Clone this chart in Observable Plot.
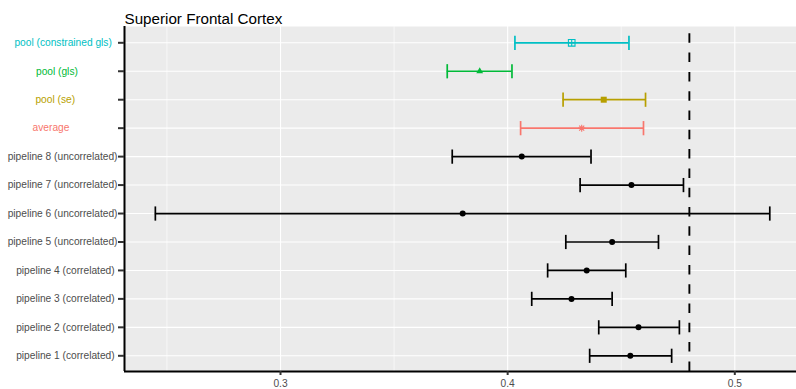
<!DOCTYPE html>
<html>
<head>
<meta charset="utf-8">
<script src="https://cdn.jsdelivr.net/npm/d3@7"></script>
<script src="https://cdn.jsdelivr.net/npm/@observablehq/plot@0.6"></script>
<style>
  body { margin: 0; background: #ffffff; }
  #chart svg { font-family: "Liberation Sans", Arial, sans-serif; }
  #chart svg text { white-space: pre; }
</style>
</head>
<body>
<div id="chart"></div>
<script>
// ---- data (top to bottom) ----
const title = "Superior Frontal Cortex";
const labels = [
  "pool (constrained gls)",
  "pool (gls)",
  "pool (se)",
  "average",
  "pipeline 8 (uncorrelated)",
  "pipeline 7 (uncorrelated)",
  "pipeline 6 (uncorrelated)",
  "pipeline 5 (uncorrelated)",
  "pipeline 4 (correlated)",
  "pipeline 3 (correlated)",
  "pipeline 2 (correlated)",
  "pipeline 1 (correlated)"
];
const estimate = [0.4282, 0.3877, 0.4423, 0.4326, 0.4062, 0.4545, 0.3802, 0.4460, 0.4348, 0.4281, 0.4576, 0.4540];
const lower    = [0.4032, 0.3734, 0.4244, 0.4057, 0.3756, 0.4319, 0.2449, 0.4256, 0.4176, 0.4106, 0.4401, 0.4361];
const upper    = [0.4534, 0.4019, 0.4607, 0.4598, 0.4367, 0.4774, 0.5154, 0.4664, 0.4520, 0.4460, 0.4756, 0.4722];
const method   = ["constrained", "gls", "se", "average", "pipeline", "pipeline", "pipeline", "pipeline", "pipeline", "pipeline", "pipeline", "pipeline"];
const referenceValue = 0.48;
const xTicks = [0.3, 0.4, 0.5];
const xMinorTicks = [0.25, 0.35, 0.45];

// ---- styles ----
const methodColor = {constrained: "#00BFC4", gls: "#00BA38", se: "#B79F00", average: "#F8766D", pipeline: "#000000"};
const labelColor = {constrained: "#00BFC4", gls: "#00BA38", se: "#B79F00", average: "#F8766D", pipeline: "#4D4D4D"};

const rows = labels.map((label, i) => ({
  i, label, est: estimate[i], lo: lower[i], hi: upper[i], method: method[i]
}));

const xDomain = [0.23132, 0.52716];
const yDomain = [11.552, -0.573];

// custom ggplot-like point shapes
function shape(fn) { return {draw(ctx, size) { fn(ctx, Math.sqrt(size / Math.PI)); }}; }
const squarePlus = shape((c, r) => {
  c.moveTo(-r, -r); c.lineTo(r, -r); c.lineTo(r, r); c.lineTo(-r, r); c.closePath();
  c.moveTo(-r, 0); c.lineTo(r, 0); c.moveTo(0, -r); c.lineTo(0, r);
});
const triangle = shape((c, r) => {
  c.moveTo(0, -r * 1.15); c.lineTo(r, r * 0.58); c.lineTo(-r, r * 0.58); c.closePath();
});
const square = shape((c, r) => { c.rect(-r, -r, 2 * r, 2 * r); });
const asterisk = shape((c, r) => {
  const d = r * 0.72;
  c.moveTo(-r, 0); c.lineTo(r, 0); c.moveTo(0, -r); c.lineTo(0, r);
  c.moveTo(-d, -d); c.lineTo(d, d); c.moveTo(-d, d); c.lineTo(d, -d);
});

const by = m => rows.filter(d => d.method === m);

const chart = Plot.plot({
  width: 796,
  height: 389,
  marginLeft: 124,
  marginRight: 0,
  marginTop: 26,
  marginBottom: 18,
  style: {fontSize: "10.2px", color: "#4D4D4D", background: "#ffffff", overflow: "visible"},
  x: {domain: xDomain, ticks: xTicks, tickSize: 0, tickPadding: 8.3, tickFormat: d => d.toFixed(1), label: null},
  y: {domain: yDomain, axis: null},
  marks: [
    Plot.frame({fill: "#EBEBEB", stroke: "none"}),
    Plot.ruleX(xMinorTicks, {stroke: "#ffffff", strokeWidth: 0.6}),
    Plot.ruleX(xTicks, {stroke: "#ffffff", strokeWidth: 1.1}),
    Plot.ruleY(rows, {y: "i", stroke: "#ffffff", strokeWidth: 1.1}),
    // error bars
    Plot.ruleY(rows, {y: "i", x1: "lo", x2: "hi", stroke: d => methodColor[d.method], strokeWidth: 1.7}),
    Plot.link(rows, {x1: "lo", x2: "lo", y1: d => d.i - 0.25, y2: d => d.i + 0.25, stroke: d => methodColor[d.method], strokeWidth: 1.7}),
    Plot.link(rows, {x1: "hi", x2: "hi", y1: d => d.i - 0.25, y2: d => d.i + 0.25, stroke: d => methodColor[d.method], strokeWidth: 1.7}),
    // point estimates
    Plot.dot(by("pipeline"), {x: "est", y: "i", r: 3, fill: "#000000", stroke: "none"}),
    Plot.dot(by("average"), {x: "est", y: "i", r: 3.5, symbol: asterisk, fill: "none", stroke: methodColor.average, strokeWidth: 1.1}),
    Plot.dot(by("se"), {x: "est", y: "i", r: 3, symbol: square, fill: methodColor.se, stroke: "none"}),
    Plot.dot(by("gls"), {x: "est", y: "i", r: 3.4, symbol: triangle, fill: methodColor.gls, stroke: "none"}),
    Plot.dot(by("constrained"), {x: "est", y: "i", r: 3.3, symbol: squarePlus, fill: "none", stroke: methodColor.constrained, strokeWidth: 1.1}),
    // reference line
    Plot.ruleX([referenceValue], {stroke: "#000000", strokeWidth: 1.9, strokeDasharray: "9.5,9.8", strokeDashoffset: 12}),
    // axis lines and ticks
    Plot.ruleX([xDomain[0]], {stroke: "#000000", strokeWidth: 2}),
    Plot.ruleY([yDomain[0]], {stroke: "#000000", strokeWidth: 2}),
    Plot.ruleY(rows, {y: "i", x1: xDomain[0], x2: xDomain[0], insetLeft: -6, stroke: "#333333", strokeWidth: 2}),
    Plot.ruleX(xTicks, {y1: yDomain[0], y2: yDomain[0], insetBottom: -4, stroke: "#333333", strokeWidth: 2}),
    // y tick labels
    Plot.text(rows, {
      y: "i", frameAnchor: "left", dx: -7, textAnchor: "end",
      text: d => d.label.padEnd(24, " "),
      fill: d => labelColor[d.method], fontSize: 10.2
    }),
    // title
    Plot.text([title], {frameAnchor: "top-left", dy: -12.9, textAnchor: "start", text: d => d, fill: "#000000", fontSize: 15.2})
  ]
});
document.getElementById("chart").appendChild(chart);
</script>
</body>
</html>
